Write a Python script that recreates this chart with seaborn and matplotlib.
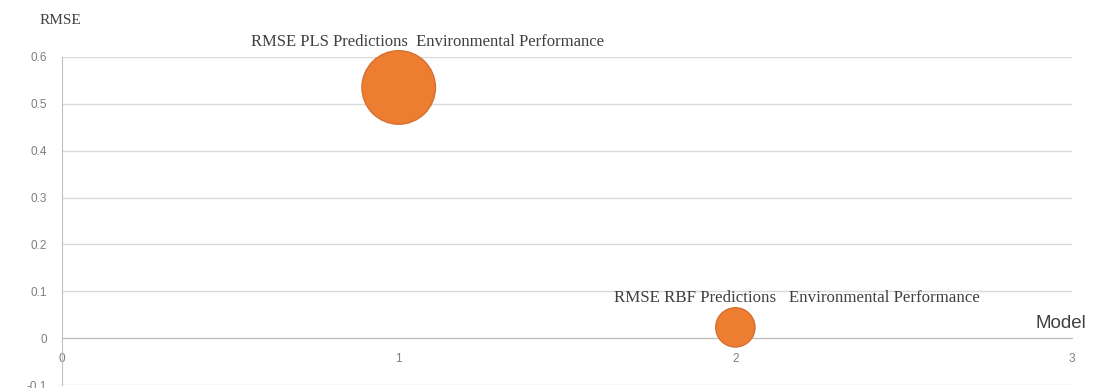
import pandas as pd
import matplotlib.pyplot as plt
import seaborn as sns

sns.set_style("white")

# chart data
models = [1, 2]
rmse = [0.535, 0.023]
bubble = [3.5, 1.0]
labels = ["RMSE PLS Predictions  Environmental Performance",
          "RMSE RBF Predictions   Environmental Performance"]
x_ticks = [0, 1, 2, 3]
y_ticks = [-0.1, 0, 0.1, 0.2, 0.3, 0.4, 0.5, 0.6]
y_tick_labels = ["-0.1", "0", "0.1", "0.2", "0.3", "0.4", "0.5", "0.6"]

df = pd.DataFrame({"Model": models, "RMSE": rmse, "Size": bubble})

fig = plt.figure(figsize=(10.96, 3.88), dpi=100)
ax = fig.add_axes([0.0566, 0.0077, 0.9215, 0.8454])

sns.scatterplot(data=df, x="Model", y="RMSE", size="Size", sizes=(800, 2800),
                color="#ED7D31", edgecolor="#D47030", linewidth=1.0,
                legend=False, ax=ax, zorder=3, clip_on=False)

ax.set_xlim(0, 3)
ax.set_ylim(-0.1, 0.6)
ax.set_xticks(x_ticks)
ax.set_yticks(y_ticks)
ax.set_yticklabels(y_tick_labels)
ax.yaxis.grid(True, color="#d9d9d9", linewidth=1)
ax.xaxis.grid(False)

for s in ["top", "right"]:
    ax.spines[s].set_visible(False)
ax.spines["left"].set_color("#bfbfbf")
ax.spines["bottom"].set_position(("data", 0))
ax.spines["bottom"].set_color("#bfbfbf")

ax.tick_params(axis="y", colors="#bfbfbf", labelcolor="#7f7f7f", labelsize=8.5,
               length=5, width=1, pad=6)
ax.tick_params(axis="x", colors="#bfbfbf", labelcolor="#7f7f7f", labelsize=8.5,
               length=4, width=1, direction="in", pad=11)
for t in ax.get_xticklabels() + ax.get_yticklabels():
    t.set_family("Liberation Sans")

ax.set_xlabel("")
ax.set_ylabel("")

# point labels
ax.annotate(labels[0], (models[0], rmse[0]), xytext=(29, 45), textcoords="offset pixels",
            ha="center", va="center", fontsize=12, family="Liberation Serif", color="#404040")
ax.annotate(labels[1], (models[1], rmse[1]), xytext=(62, 29), textcoords="offset pixels",
            ha="center", va="center", fontsize=12.2, family="Liberation Serif", color="#404040")

fig.text(0.036, 0.946, "RMSE", fontsize=11, family="Liberation Serif", color="#404040",
         va="center")
fig.text(0.945, 1 - 323 / 388, "Model", fontsize=13.5, family="Liberation Sans",
         color="#404040", va="center")

fig.savefig("out.png", dpi=100)
